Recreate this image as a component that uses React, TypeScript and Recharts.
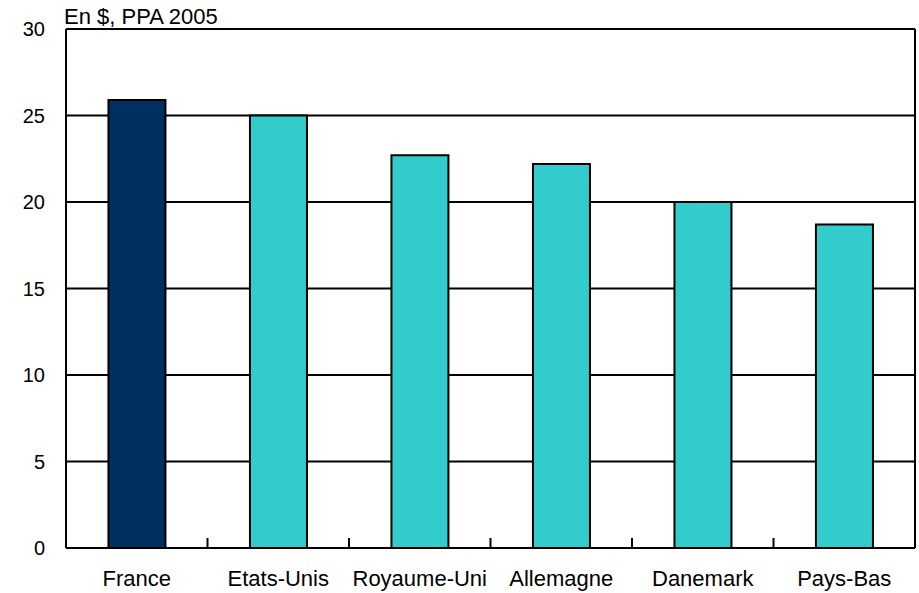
import React from "react";
import { BarChart, Bar, XAxis, YAxis, CartesianGrid, Cell } from "recharts";

const countries = ["France", "Etats-Unis", "Royaume-Uni", "Allemagne", "Danemark", "Pays-Bas"];
const values = [25.9, 25.0, 22.7, 22.2, 20.0, 18.7];
const barColors = ["#00305f", "#33cccc", "#33cccc", "#33cccc", "#33cccc", "#33cccc"];
const yTicks = [0, 5, 10, 15, 20, 25, 30];
const title = "En $, PPA 2005";

const data = countries.map((c, i) => ({ name: c, value: values[i] }));

const FONT = "'Liberation Sans', Arial, sans-serif";

const XTick = (props: any) => {
  const { x, y, payload, index, width, visibleTicksCount } = props;
  const count = visibleTicksCount || countries.length;
  const band = (width || 849) / count;
  return (
    <g>
      {index < count - 1 && (
        <line x1={x + band / 2} x2={x + band / 2} y1={y} y2={y - 10} stroke="#000" strokeWidth={2} />
      )}
      <text x={x} y={y + 38} textAnchor="middle" fontSize={22} fontFamily={FONT} fill="#000">
        {payload.value}
      </text>
    </g>
  );
};

export default function App() {
  return (
    <div style={{ position: "absolute", left: 0, top: 0, width: 919, height: 593, background: "#fff", overflow: "hidden" }}>
      <div
        style={{
          position: "absolute",
          left: 64,
          top: 5,
          fontFamily: FONT,
          fontSize: 22,
          lineHeight: "24px",
          color: "#000",
          whiteSpace: "nowrap",
        }}
      >
        {title}
      </div>
      <BarChart
        width={919}
        height={593}
        data={data}
        margin={{ top: 29, right: 0, bottom: 0, left: 0 }}
        barCategoryGap="30%"
      >
        <CartesianGrid vertical={false} stroke="#000" strokeWidth={2} />
        <XAxis
          dataKey="name"
          axisLine={{ stroke: "#000", strokeWidth: 2 }}
          tickLine={false}
          tickSize={0}
          tickMargin={0}
          tick={<XTick />}
          interval={0}
          height={45}
        />
        <YAxis
          domain={[0, 30]}
          ticks={yTicks}
          width={66}
          axisLine={{ stroke: "#000", strokeWidth: 2 }}
          tickLine={false}
          tickSize={0}
          tickMargin={21}
          tick={{ fontSize: 20, fontFamily: FONT, fill: "#000" }}
        />
        <YAxis
          yAxisId="r"
          orientation="right"
          domain={[0, 30]}
          width={4}
          axisLine={{ stroke: "#000", strokeWidth: 2 }}
          tick={false}
          tickLine={false}
        />
        <Bar dataKey="value" stroke="#000" strokeWidth={2} isAnimationActive={false}>
          {data.map((d, i) => (
            <Cell key={d.name} fill={barColors[i]} />
          ))}
        </Bar>
      </BarChart>
    </div>
  );
}
